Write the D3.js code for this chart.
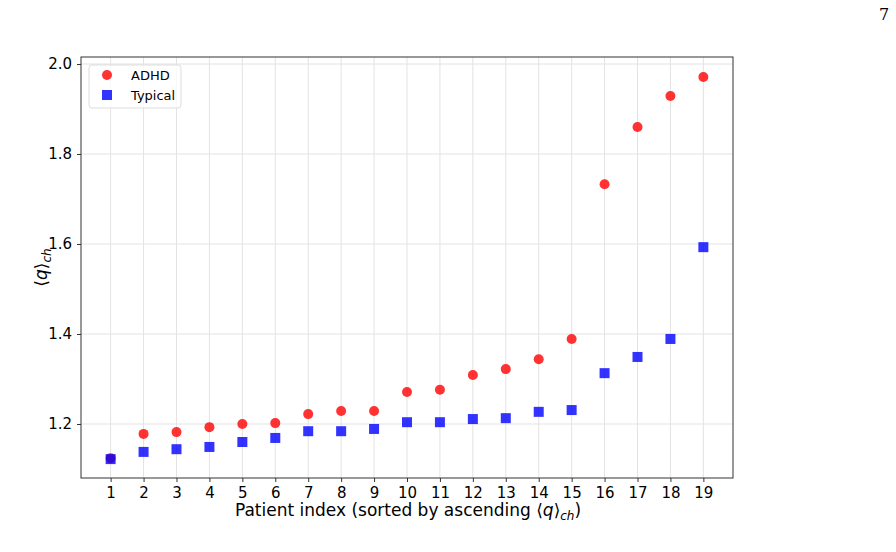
<!DOCTYPE html><html><head><meta charset="utf-8"><script src="https://cdn.jsdelivr.net/npm/d3@7"></script>
<style>body{margin:0;background:#fff}text{font-family:"DejaVu Sans",sans-serif}</style></head><body>
<svg id="c" width="896" height="552"></svg>
<script>
const patients=d3.range(1,20);
const adhd=[1.124,1.178,1.182,1.193,1.200,1.202,1.222,1.229,1.229,1.271,1.276,1.309,1.322,1.344,1.389,1.733,1.860,1.929,1.971];
const typical=[1.122,1.138,1.144,1.149,1.160,1.169,1.184,1.184,1.189,1.204,1.204,1.211,1.213,1.227,1.231,1.313,1.349,1.389,1.593];
const yTicks=[1.2,1.4,1.6,1.8,2.0];
const svg=d3.select("#c");
const L=81,R=733,T=57,B=478;
const x=d3.scaleLinear().domain([0.1,19.9]).range([L,R]);
const y=d3.scaleLinear().domain([1.08,2.0156]).range([B,T]);
const g=svg.append("g");
g.selectAll(".gx").data(patients).join("line").attr("x1",d=>x(d)).attr("x2",d=>x(d)).attr("y1",T).attr("y2",B).attr("stroke","#e3e3e3");
g.selectAll(".gy").data(yTicks).join("line").attr("y1",d=>y(d)).attr("y2",d=>y(d)).attr("x1",L).attr("x2",R).attr("stroke","#e3e3e3");
const xa=svg.append("g").attr("transform",`translate(0,${B})`).call(d3.axisBottom(x).tickValues(patients).tickSize(4).tickPadding(5));
const ya=svg.append("g").attr("transform",`translate(${L},0)`).call(d3.axisLeft(y).tickValues(yTicks).tickFormat(d3.format(".1f")).tickSize(4).tickPadding(5));
[xa,ya].forEach(a=>{a.select(".domain").remove();a.selectAll("text").attr("font-size",15).attr("fill","#000").style("font-family","DejaVu Sans");a.selectAll("line").attr("stroke","#333");});
svg.append("rect").attr("x",L).attr("y",T).attr("width",R-L).attr("height",B-T).attr("fill","none").attr("stroke","#333").attr("stroke-width",1);
svg.append("g").selectAll("circle").data(adhd).join("circle").attr("cx",(d,i)=>x(patients[i])).attr("cy",d=>y(d)).attr("r",5).attr("fill","#ff0000").attr("fill-opacity",0.8);
svg.append("g").selectAll("rect").data(typical).join("rect").attr("x",(d,i)=>x(patients[i])-5).attr("y",d=>y(d)-5).attr("width",10).attr("height",10).attr("fill","#0000ff").attr("fill-opacity",0.8);
const lg=svg.append("g");
lg.append("rect").attr("x",89).attr("y",65).attr("width",92).attr("height",43).attr("rx",3).attr("fill","#fff").attr("fill-opacity",0.8).attr("stroke","#ddd");
lg.append("circle").attr("cx",107).attr("cy",75).attr("r",5).attr("fill","#ff0000").attr("fill-opacity",0.8);
lg.append("rect").attr("x",102).attr("y",90).attr("width",10).attr("height",10).attr("fill","#0000ff").attr("fill-opacity",0.8);
lg.append("text").attr("x",131).attr("y",80).attr("font-size",13).text("ADHD");
lg.append("text").attr("x",131).attr("y",100).attr("font-size",13).text("Typical");
const xl=svg.append("text").attr("x",(L+R)/2+1).attr("y",516).attr("text-anchor","middle").attr("font-size",17);
xl.append("tspan").text("Patient index (sorted by ascending ⟨");
xl.append("tspan").attr("font-style","italic").text("q");
xl.append("tspan").text("⟩");
xl.append("tspan").attr("font-style","italic").attr("font-size",12).attr("dy",4).text("ch");
xl.append("tspan").attr("dy",-4).text(")");
const yl=svg.append("text").attr("transform",`translate(47,${(T+B)/2}) rotate(-90)`).attr("text-anchor","middle").attr("font-size",17);
yl.append("tspan").text("⟨");
yl.append("tspan").attr("font-style","italic").text("q");
yl.append("tspan").text("⟩");
yl.append("tspan").attr("font-style","italic").attr("font-size",12).attr("dy",4).text("ch");
svg.append("text").attr("x",884).attr("y",20).attr("text-anchor","middle").attr("font-size",16).style("font-family","DejaVu Serif").text("7");
</script></body></html>
